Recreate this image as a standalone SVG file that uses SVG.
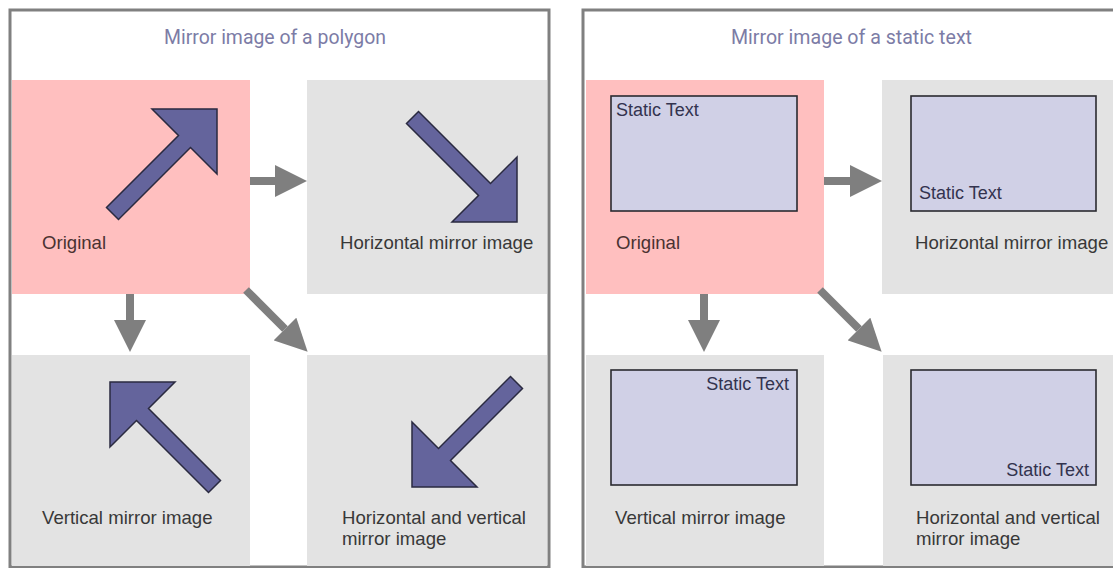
<svg xmlns="http://www.w3.org/2000/svg" width="1113" height="568" viewBox="0 0 1113 568">
<style>
.panel{fill:#ffffff;stroke:#808080;stroke-width:3}
.orig{fill:#ffbfbf}
.box{fill:#e3e3e3}
.title{font-family:Roboto,"Liberation Sans",sans-serif;font-size:20px;fill:#7c7ca6}
.lbl{font-family:"Liberation Sans",Arial,sans-serif;font-size:18.6px;fill:#383838}
.lblo{font-family:"Liberation Sans",Arial,sans-serif;font-size:18.6px;fill:#4a3232}
.st{font-family:"Liberation Sans",Arial,sans-serif;font-size:18px;fill:#33334f}
.shape{fill:#64649c;stroke:#2a2a40;stroke-width:1.5;stroke-linejoin:miter}
.strect{fill:#d0d0e6;stroke:#2a2a30;stroke-width:1.6}
.conn{stroke:#7f7f7f;stroke-width:8;fill:none;marker-end:url(#head)}
</style>
<defs>
<marker id="head" viewBox="0 -16 32 32" refX="0" refY="0" markerWidth="32" markerHeight="32" markerUnits="userSpaceOnUse" orient="auto">
<path d="M0,-16 L32,0 L0,16 Z" fill="#7f7f7f"/>
</marker>
<path id="arr" d="M0,0 L0,65 L-26.5,38.5 L-98.5,110.5 L-110.5,98.5 L-38.5,26.5 L-65,0 Z"/>
</defs>
<rect width="1113" height="568" fill="#ffffff"/>

<g id="panel-polygon">
<rect class="panel" x="10" y="10" width="539" height="557"/>
<text class="title" x="275" y="44" text-anchor="middle" textLength="222" lengthAdjust="spacingAndGlyphs">Mirror image of a polygon</text>
</g>
<g id="panel-text">
<rect class="panel" x="583" y="10" width="600" height="557"/>
<text class="title" x="851.5" y="44" text-anchor="middle" textLength="241" lengthAdjust="spacingAndGlyphs">Mirror image of a static text</text>
</g>

<g id="p-original">
<rect class="orig" x="12" y="80" width="238" height="214"/>
<use href="#arr" class="shape" transform="translate(217,109)"/>
<text class="lblo" x="42" y="249">Original</text>
</g>
<g id="p-horizontal">
<rect class="box" x="307" y="80" width="240" height="214"/>
<use href="#arr" class="shape" transform="translate(517,222) scale(1,-1)"/>
<text class="lbl" x="340" y="249">Horizontal mirror image</text>
</g>
<g id="p-vertical">
<rect class="box" x="12" y="355" width="238" height="211"/>
<use href="#arr" class="shape" transform="translate(110,382) scale(-1,1)"/>
<text class="lbl" x="42" y="524">Vertical mirror image</text>
</g>
<g id="p-both">
<rect class="box" x="307" y="355" width="240" height="211"/>
<use href="#arr" class="shape" transform="translate(412,487) scale(-1,-1)"/>
<text class="lbl" x="342" y="524">Horizontal and vertical</text>
<text class="lbl" x="342" y="545">mirror image</text>
</g>

<g id="t-original">
<rect class="orig" x="586" y="80" width="238" height="214"/>
<rect class="strect" x="611" y="96" width="186" height="115"/>
<text class="st" x="616" y="116">Static Text</text>
<text class="lblo" x="616" y="249">Original</text>
</g>
<g id="t-horizontal">
<rect class="box" x="882" y="80" width="240" height="214"/>
<rect class="strect" x="911" y="96" width="185" height="115"/>
<text class="st" x="919" y="199">Static Text</text>
<text class="lbl" x="915" y="249">Horizontal mirror image</text>
</g>
<g id="t-vertical">
<rect class="box" x="586" y="355" width="238" height="211"/>
<rect class="strect" x="611" y="370" width="186" height="115"/>
<text class="st" x="789" y="390" text-anchor="end">Static Text</text>
<text class="lbl" x="615" y="524">Vertical mirror image</text>
</g>
<g id="t-both">
<rect class="box" x="883" y="355" width="240" height="211"/>
<rect class="strect" x="911" y="370" width="185" height="115"/>
<text class="st" x="1089" y="476" text-anchor="end">Static Text</text>
<text class="lbl" x="916" y="524">Horizontal and vertical</text>
<text class="lbl" x="916" y="545">mirror image</text>
</g>

<g id="connectors">
<line class="conn" x1="250" y1="181" x2="275" y2="181"/>
<line class="conn" x1="130" y1="294" x2="130" y2="320"/>
<line class="conn" x1="246" y1="290" x2="285" y2="329"/>
<line class="conn" x1="824" y1="181" x2="850" y2="181"/>
<line class="conn" x1="704" y1="294" x2="704" y2="320"/>
<line class="conn" x1="820" y1="290" x2="859" y2="329"/>
</g>
</svg>
